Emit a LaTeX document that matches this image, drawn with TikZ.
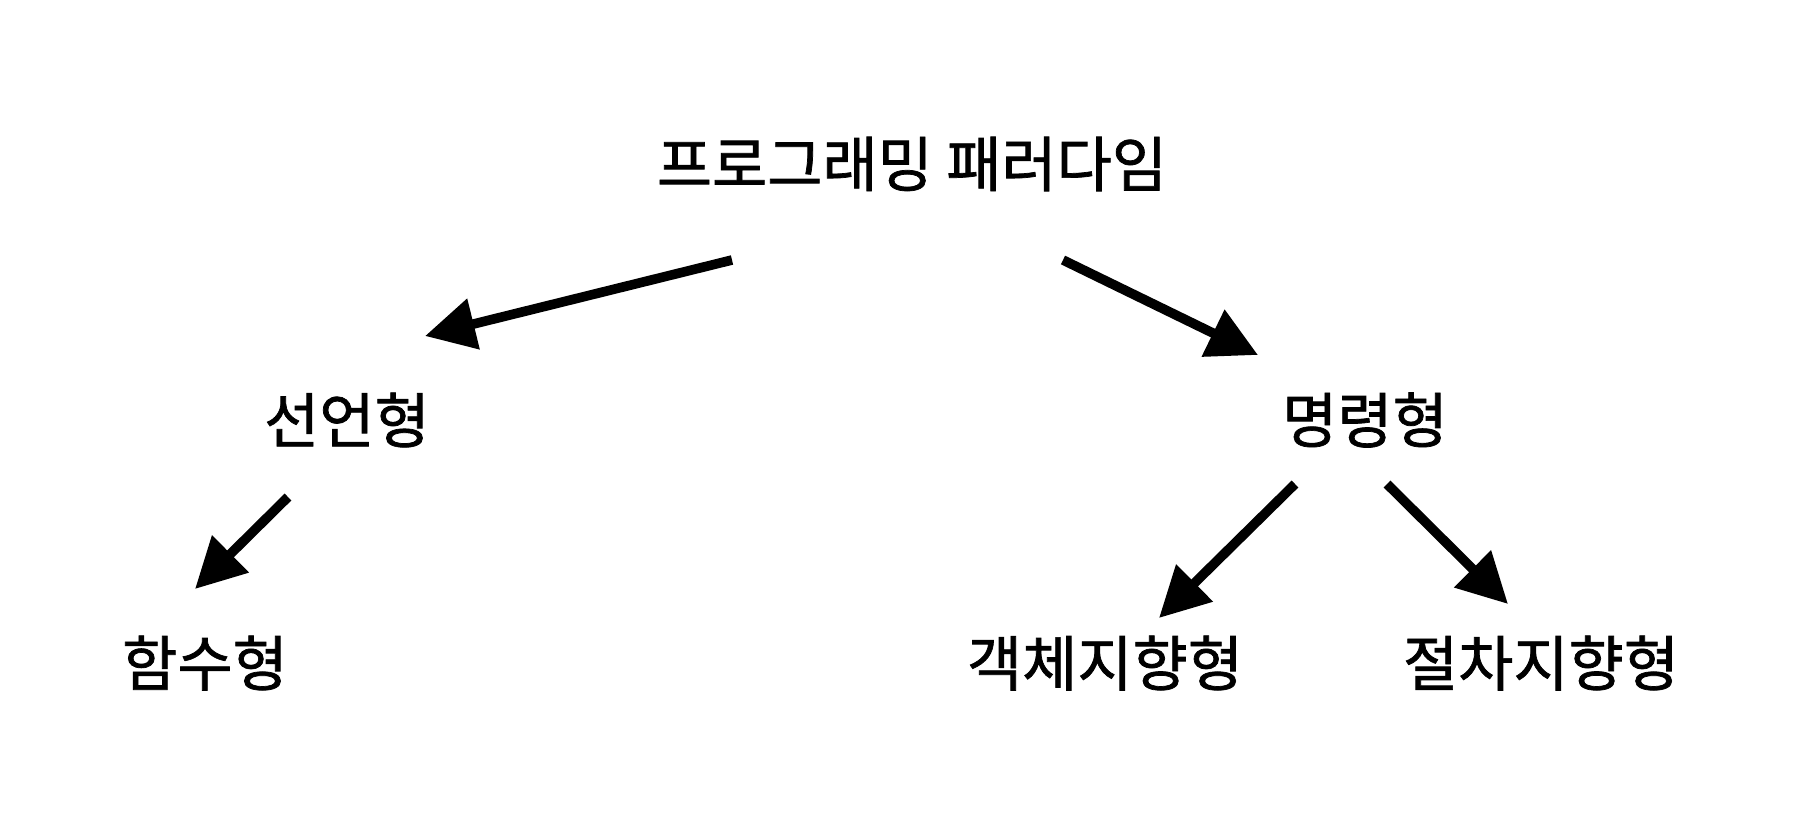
\documentclass[tikz,border=0pt]{standalone}
\usepackage{fontspec}
\newfontfamily\kr[FakeBold=1.2]{Noto Sans CJK KR}
\usetikzlibrary{arrows.meta}
\begin{document}
\begin{tikzpicture}[x=0.5pt,y=-0.5pt,
  lbl/.style={inner sep=0pt, font=\kr\fontsize{30pt}{36pt}\selectfont},
  arr/.style={line width=4.8pt, -{Triangle[length=25pt,width=25pt]}}]
\useasboundingbox (0,0) rectangle (1812,832);
\node[lbl] (root) at (912,164) {프로그래밍 패러다임};
\node[lbl] (decl) at (347,420) {선언형};
\node[lbl] (imp) at (1365,420) {명령형};
\node[lbl] (func) at (205,663) {함수형};
\node[lbl] (oop) at (1105,663) {객체지향형};
\node[lbl] (proc) at (1541,663) {절차지향형};
\coordinate (a1s) at (732,260); \coordinate (a1e) at (425,336);
\coordinate (a2s) at (1063,260); \coordinate (a2e) at (1258,355);
\coordinate (a3s) at (288,497); \coordinate (a3e) at (195,589);
\coordinate (a4s) at (1295,484); \coordinate (a4e) at (1159,618);
\coordinate (a5s) at (1387,484); \coordinate (a5e) at (1508,604);
\draw[arr] (a1s) -- (a1e);
\draw[arr] (a2s) -- (a2e);
\draw[arr] (a3s) -- (a3e);
\draw[arr] (a4s) -- (a4e);
\draw[arr] (a5s) -- (a5e);
\end{tikzpicture}
\end{document}
